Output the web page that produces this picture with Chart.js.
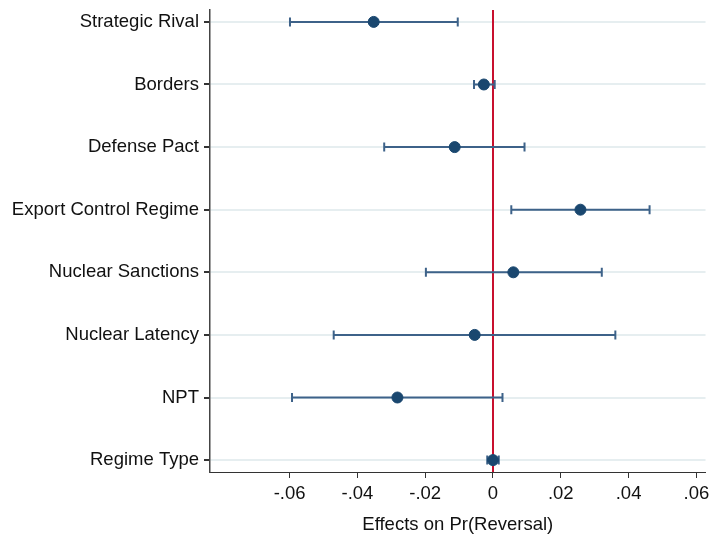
<!DOCTYPE html>
<html>
<head>
<meta charset="utf-8">
<script src="https://cdn.jsdelivr.net/npm/chart.js@4"></script>
<style>
  html, body { margin: 0; padding: 0; background: #fff; overflow: hidden; }
  #wrap { width: 712px; height: 536px; }
</style>
</head>
<body>
<div id="wrap"><canvas id="coef-chart"></canvas></div>
<script>
// Coefficient plot data
const labels = ['Strategic Rival', 'Borders', 'Defense Pact', 'Export Control Regime',
    'Nuclear Sanctions', 'Nuclear Latency', 'NPT', 'Regime Type'];
const estimates = [-0.0352, -0.0027, -0.0113, 0.0258, 0.0060, -0.0054, -0.0282, 0.0000];
const lower = [-0.0599, -0.0056, -0.0321, 0.0054, -0.0198, -0.0470, -0.0593, -0.0017];
const upper = [-0.0104, 0.0005, 0.0093, 0.0462, 0.0321, 0.0361, 0.0028, 0.0017];
const xTicks = [-0.06, -0.04, -0.02, 0, 0.02, 0.04, 0.06];

const fontFamily = '"Liberation Sans", Arial, Helvetica, sans-serif';
const pointColor = '#1a476f';
const barColor = '#3d6289';

function fmtTick(v) {
    if (Math.abs(v) < 1e-9) return '0';
    return (v < 0 ? '-' : '') + Math.abs(v).toFixed(2).replace(/^0/, '');
}

// one line dataset per confidence interval, caps drawn as rotated line points
const ciSets = labels.map((label, i) => ({
    type: 'line',
    data: [{ x: lower[i], y: i }, { x: upper[i], y: i }],
    borderColor: barColor,
    borderWidth: 2,
    pointStyle: 'line',
    rotation: 90,
    pointRadius: 4.5,
    pointBorderWidth: 2,
    pointBorderColor: barColor,
    fill: false,
    order: 2,
}));

const ctx = document.getElementById('coef-chart').getContext('2d');
const coefChart = new Chart(ctx, {
    type: 'scatter',
    data: {
        datasets: [
            {
                type: 'line',
                data: [{ x: 0, y: -0.19 }, { x: 0, y: 7.19 }],
                borderColor: '#c8102e',
                borderWidth: 2,
                pointRadius: 0,
                order: 3,
            },
            ...ciSets,
            {
                data: estimates.map((v, i) => ({ x: v, y: i })),
                backgroundColor: pointColor,
                borderColor: pointColor,
                pointRadius: 5.5,
                order: 1,
            },
        ],
    },
    options: {
        responsive: true,
        maintainAspectRatio: false,
        animation: false,
        layout: { padding: { top: 10, right: 2, left: 0, bottom: 0 } },
        plugins: {
            legend: { display: false },
            tooltip: { enabled: false },
        },
        scales: {
            x: {
                type: 'linear',
                min: -0.0835,
                max: 0.0627,
                afterBuildTicks: axis => { axis.ticks = xTicks.map(v => ({ value: v })); },
                afterFit: axis => {
                    axis.height = 64;
                    axis.paddingLeft = 0;
                    axis.paddingRight = 0;
                },
                border: { color: '#333', width: 1 },
                grid: {
                    drawOnChartArea: false,
                    drawTicks: true,
                    tickLength: 6,
                    tickColor: '#333',
                },
                ticks: {
                    callback: v => fmtTick(v),
                    color: '#111',
                    padding: 5,
                    maxRotation: 0,
                    font: { family: fontFamily, size: 18.5 },
                },
                title: {
                    display: true,
                    text: 'Effects on Pr(Reversal)',
                    color: '#111',
                    padding: { top: 6, bottom: 0 },
                    font: { family: fontFamily, size: 18.5 },
                },
            },
            y: {
                type: 'linear',
                reverse: true,
                min: -0.19,
                max: 7.19,
                afterBuildTicks: axis => { axis.ticks = labels.map((_, i) => ({ value: i })); },
                afterFit: axis => {
                    axis.width = 210;
                    axis.paddingTop = 0;
                    axis.paddingBottom = 0;
                },
                border: { color: '#444', width: 1.5 },
                grid: {
                    color: '#e6eef0',
                    lineWidth: 2,
                    tickLength: 6,
                    tickColor: '#333',
                },
                ticks: {
                    callback: v => labels[v],
                    color: '#111',
                    padding: 5,
                    font: { family: fontFamily, size: 18.5 },
                },
            },
        },
    },
});
</script>
</body>
</html>
